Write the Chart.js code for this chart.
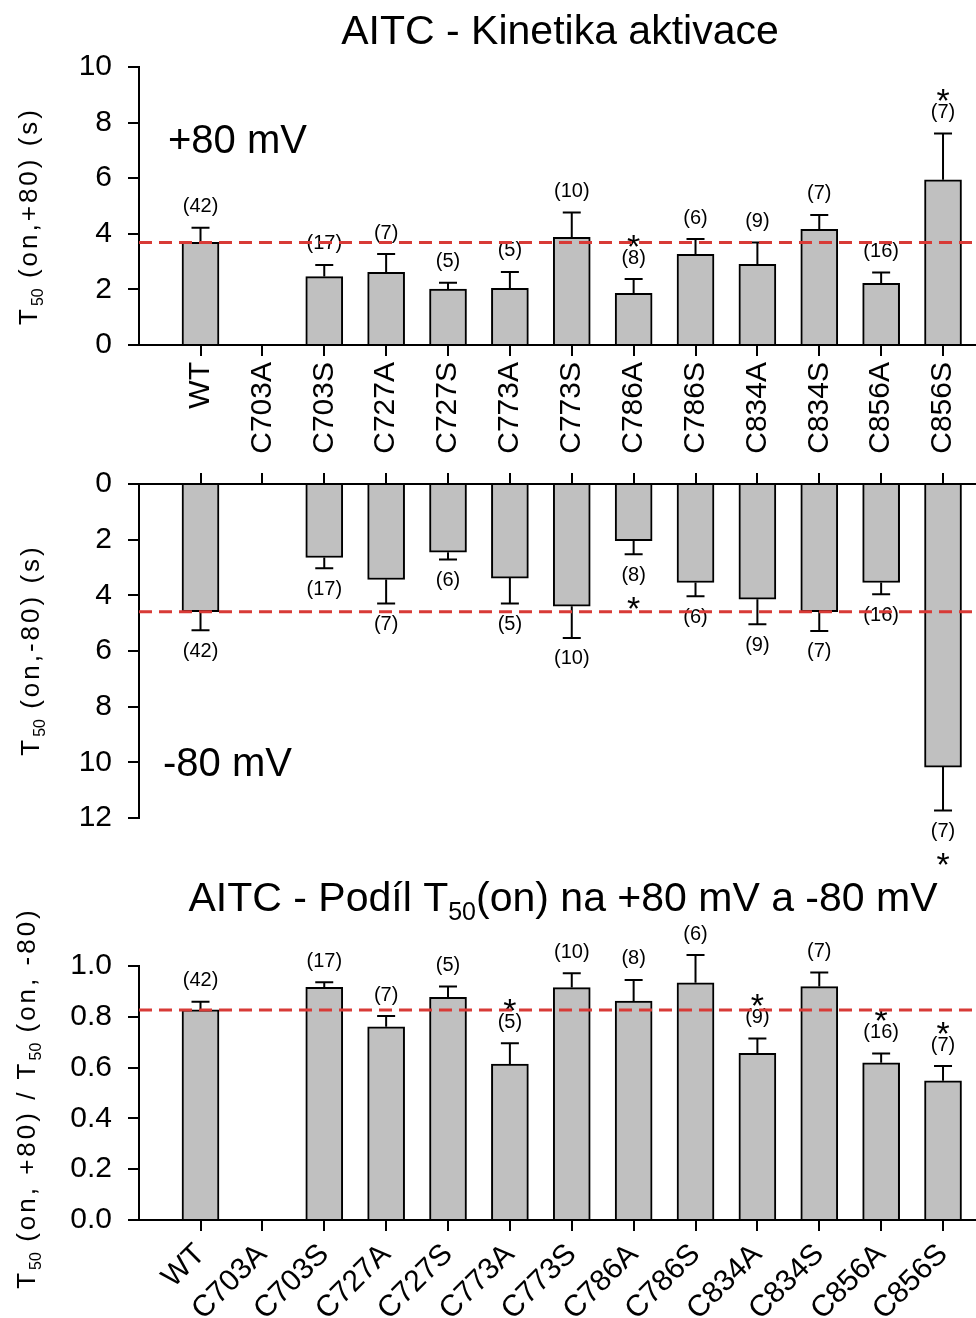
<!DOCTYPE html>
<html>
<head>
<meta charset="utf-8">
<script src="https://cdn.jsdelivr.net/npm/chart.js@4/dist/chart.umd.min.js"></script>
<style>
  html, body { margin: 0; padding: 0; background: #fff; overflow: hidden; width: 976px; height: 1318px; }
  canvas { position: absolute; left: 0; }
</style>
</head>
<body>
<canvas id="pos80" width="976" height="470" style="top:0"></canvas>
<canvas id="neg80" width="976" height="400" style="top:470px"></canvas>
<canvas id="ratio" width="976" height="448" style="top:870px"></canvas>
<script>
'use strict';

const MUTANTS = ['WT', 'C703A', 'C703S', 'C727A', 'C727S', 'C773A', 'C773S',
  'C786A', 'C786S', 'C834A', 'C834S', 'C856A', 'C856S'];

// T50(on) at +80 mV, seconds
const POS80_MEAN = [3.69, null, 2.46, 2.61, 2.01, 2.04, 3.87, 1.86, 3.26, 2.90, 4.16, 2.22, 5.94];
const POS80_SEM = [0.53, null, 0.42, 0.66, 0.23, 0.59, 0.90, 0.51, 0.55, 0.79, 0.52, 0.39, 1.67];
const POS80_N = [42, null, 17, 7, 5, 5, 10, 8, 6, 9, 7, 16, 7];
const POS80_SIG = ['C786A', 'C856S'];

// T50(on) at -80 mV, seconds
const NEG80_MEAN = [4.59, null, 2.64, 3.43, 2.45, 3.38, 4.39, 2.04, 3.54, 4.14, 4.59, 3.54, 10.17];
const NEG80_SEM = [0.66, null, 0.39, 0.86, 0.26, 0.91, 1.14, 0.48, 0.49, 0.90, 0.69, 0.42, 1.56];
const NEG80_N = [42, null, 17, 7, 6, 5, 10, 8, 6, 9, 7, 16, 7];
const NEG80_SIG = ['C786A', 'C856S'];

// ratio T50(on,+80) / T50(on,-80)
const RATIO_MEAN = [0.827, null, 0.916, 0.761, 0.877, 0.614, 0.915, 0.862, 0.934, 0.656, 0.919, 0.619, 0.548];
const RATIO_SEM = [0.032, null, 0.020, 0.042, 0.042, 0.082, 0.056, 0.083, 0.109, 0.059, 0.055, 0.037, 0.058];
const RATIO_N = [42, null, 17, 7, 5, 5, 10, 8, 6, 9, 7, 16, 7];
const RATIO_SIG = ['C773A', 'C834A', 'C856A', 'C856S'];

const FONT = "'Liberation Sans', Arial, sans-serif";
const BAR = '#c0c0c0';
const RED = '#d83a36';

// text with subscript parts, centred at the current origin
function drawRich(ctx, parts, size, spacing) {
  const items = parts.map(p => {
    const fs = p.sub ? Math.round(size * 0.62) : size;
    ctx.font = fs + 'px ' + FONT;
    ctx.letterSpacing = (p.sub ? 0 : spacing) + 'px';
    return { t: p.t, sub: p.sub, fs, w: ctx.measureText(p.t).width };
  });
  const total = items.reduce((s, it) => s + it.w, 0);
  let cx = -total / 2;
  ctx.textAlign = 'left';
  ctx.textBaseline = 'middle';
  items.forEach(it => {
    ctx.font = it.fs + 'px ' + FONT;
    ctx.letterSpacing = (it.sub ? 0 : spacing) + 'px';
    ctx.fillText(it.t, cx, it.sub ? size * 0.32 : 0);
    cx += it.w;
  });
  ctx.letterSpacing = '0px';
}

function panelPlugin(p) {
  return {
    id: 'panelExtras',
    afterDatasetsDraw(chart) {
      const { ctx, chartArea: a, scales: { x, y } } = chart;
      ctx.save();
      ctx.strokeStyle = '#000';
      ctx.fillStyle = '#000';
      ctx.lineWidth = 2;
      p.mean.forEach((m, i) => {
        if (m == null) return;
        const px = x.getPixelForValue(i);
        const y0 = y.getPixelForValue(m);
        const y1 = y.getPixelForValue(m + p.sem[i]);
        ctx.beginPath();
        ctx.moveTo(px, y0); ctx.lineTo(px, y1);
        ctx.moveTo(px - 9, y1); ctx.lineTo(px + 9, y1);
        ctx.stroke();

        const dir = y1 < y0 ? -1 : 1;
        const ly = y1 + dir * 21;
        ctx.font = '20px ' + FONT;
        ctx.textAlign = 'center';
        ctx.textBaseline = 'middle';
        ctx.fillText('(' + p.n[i] + ')', px, ly);
        if (p.sig.includes(MUTANTS[i])) {
          const sy = ly + (dir < 0 ? -19 : 26);
          ctx.font = '34px ' + FONT;
          ctx.textBaseline = 'alphabetic';
          ctx.fillText('*', px, sy + 19);
        }
      });

      // WT reference line
      const ry = y.getPixelForValue(p.mean[0]);
      ctx.strokeStyle = RED;
      ctx.lineWidth = 3;
      ctx.setLineDash([13, 7]);
      ctx.beginPath();
      ctx.moveTo(a.left, ry); ctx.lineTo(a.right, ry);
      ctx.stroke();
      ctx.restore();
    },
    afterDraw(chart) {
      const ctx = chart.ctx;
      ctx.save();
      ctx.fillStyle = '#000';
      if (p.title) {
        ctx.translate(p.title.x, p.title.y);
        drawRich(ctx, p.title.parts, 41, 0);
        ctx.setTransform(1, 0, 0, 1, 0, 0);
      }
      ctx.translate(p.yTitle.x, p.yTitle.y);
      ctx.rotate(-Math.PI / 2);
      drawRich(ctx, p.yTitle.parts, 26, 3);
      ctx.setTransform(1, 0, 0, 1, 0, 0);
      if (p.tag) {
        ctx.font = '40px ' + FONT;
        ctx.textAlign = 'left';
        ctx.textBaseline = 'middle';
        ctx.fillText(p.tag.text, p.tag.x, p.tag.y);
      }
      ctx.restore();
    }
  };
}

function xScale(pos, rotation, height) {
  return {
    type: 'linear',
    position: pos,
    min: -0.994,
    max: 12.533,
    offset: false,
    afterBuildTicks: s => { s.ticks = MUTANTS.map((_, i) => ({ value: i })); },
    afterFit: s => { s.height = height; s.paddingLeft = 0; s.paddingRight = 0; },
    grid: { offset: false, drawOnChartArea: false, drawTicks: true, tickLength: 11, color: '#000', lineWidth: 2 },
    border: { color: '#000', width: 2 },
    ticks: {
      display: rotation != null,
      autoSkip: false,
      minRotation: rotation || 0,
      maxRotation: rotation || 0,
      padding: 6,
      color: '#000',
      font: { family: FONT, size: 30 },
      callback: v => MUTANTS[v] || ''
    }
  };
}

function yScale(max, step, reverse, fmt) {
  return {
    min: 0,
    max: max,
    reverse: reverse,
    afterFit: s => { s.width = 139; s.paddingTop = 0; s.paddingBottom = 0; },
    grid: { drawOnChartArea: false, drawTicks: true, tickLength: 11, color: '#000', lineWidth: 2 },
    border: { color: '#000', width: 2 },
    ticks: {
      stepSize: step,
      padding: 16,
      color: '#000',
      font: { family: FONT, size: 30 },
      callback: fmt
    }
  };
}

function barData(mean) {
  return {
    datasets: [{
      data: mean.map((v, i) => ({ x: i, y: v })),
      backgroundColor: BAR,
      borderColor: '#000',
      borderWidth: 2,
      barThickness: 37
    }]
  };
}

function baseOptions(padding, scales) {
  return {
    responsive: false,
    animation: false,
    events: [],
    layout: { padding: padding, autoPadding: false },
    plugins: { legend: { display: false }, tooltip: { enabled: false }, title: { display: false } },
    scales: scales
  };
}

// +80 mV panel
new Chart(document.getElementById('pos80'), {
  type: 'bar',
  data: barData(POS80_MEAN),
  options: baseOptions({ top: 67, left: 0, right: 0, bottom: 0 }, {
    x: xScale('bottom', 90, 125),
    y: yScale(10, 2, false, v => v)
  }),
  plugins: [panelPlugin({
    mean: POS80_MEAN, sem: POS80_SEM, n: POS80_N, sig: POS80_SIG,
    title: { x: 560, y: 33, parts: [{ t: 'AITC - Kinetika aktivace' }] },
    yTitle: { x: 30, y: 216, parts: [{ t: 'T' }, { t: '50', sub: true }, { t: ' (on,+80) (s)' }] },
    tag: { text: '+80 mV', x: 168, y: 142 }
  })]
});

// -80 mV panel
new Chart(document.getElementById('neg80'), {
  type: 'bar',
  data: barData(NEG80_MEAN),
  options: baseOptions({ top: 14, left: 0, right: 0, bottom: 52 }, {
    x: xScale('top', null, 0),
    y: yScale(12, 2, true, v => v)
  }),
  plugins: [panelPlugin({
    mean: NEG80_MEAN, sem: NEG80_SEM, n: NEG80_N, sig: NEG80_SIG,
    yTitle: { x: 32, y: 180, parts: [{ t: 'T' }, { t: '50', sub: true }, { t: ' (on,-80) (s)' }] },
    tag: { text: '-80 mV', x: 163, y: 295 }
  })]
});

// ratio panel
new Chart(document.getElementById('ratio'), {
  type: 'bar',
  data: barData(RATIO_MEAN),
  options: baseOptions({ top: 96, left: 0, right: 0, bottom: 0 }, {
    x: xScale('bottom', 45, 98),
    y: yScale(1, 0.2, false, v => v.toFixed(1))
  }),
  plugins: [panelPlugin({
    mean: RATIO_MEAN, sem: RATIO_SEM, n: RATIO_N, sig: RATIO_SIG,
    title: { x: 563, y: 30, parts: [{ t: 'AITC - Podíl T' }, { t: '50', sub: true }, { t: '(on) na +80 mV a -80 mV' }] },
    yTitle: { x: 28, y: 228, parts: [{ t: 'T' }, { t: '50', sub: true }, { t: ' (on, +80) / T' }, { t: '50', sub: true }, { t: ' (on, -80)' }] }
  })]
});
</script>
</body>
</html>
